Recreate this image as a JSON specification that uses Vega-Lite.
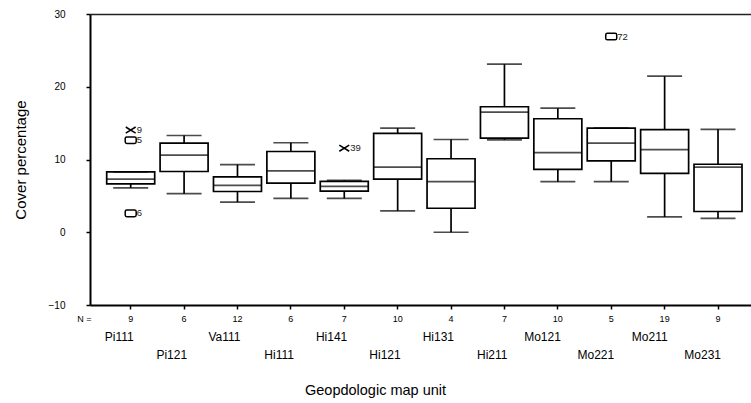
{
  "$schema": "https://vega.github.io/schema/vega-lite/v6.json",
  "width": 661,
  "height": 291,
  "autosize": {"type": "none"},
  "padding": {"left": 90, "top": 14, "right": 0, "bottom": 98},
  "background": "white",
  "config": {
    "font": "Liberation Sans",
    "view": {"stroke": null},
    "axis": {
      "grid": false,
      "domainColor": "#000",
      "tickColor": "#000",
      "labelColor": "#000",
      "titleColor": "#000",
      "titleFontWeight": "normal"
    }
  },
  "datasets": {
    "boxes": [
      {"unit": "Pi111", "n": 9, "lower": 6.1, "q1": 6.65, "median": 7.3, "q3": 8.3, "upper": 8.3},
      {"unit": "Pi121", "n": 6, "lower": 5.3, "q1": 8.35, "median": 10.6, "q3": 12.25, "upper": 13.3},
      {"unit": "Va111", "n": 12, "lower": 4.15, "q1": 5.6, "median": 6.45, "q3": 7.6, "upper": 9.3},
      {"unit": "Hi111", "n": 6, "lower": 4.65, "q1": 6.75, "median": 8.45, "q3": 11.1, "upper": 12.3},
      {"unit": "Hi141", "n": 7, "lower": 4.65, "q1": 5.65, "median": 6.3, "q3": 7.0, "upper": 7.15},
      {"unit": "Hi121", "n": 10, "lower": 2.95, "q1": 7.3, "median": 8.95, "q3": 13.6, "upper": 14.3},
      {"unit": "Hi131", "n": 4, "lower": 0.0, "q1": 3.3, "median": 6.95, "q3": 10.1, "upper": 12.75},
      {"unit": "Hi211", "n": 7, "lower": 12.7, "q1": 12.95, "median": 16.5, "q3": 17.25, "upper": 23.1},
      {"unit": "Mo121", "n": 10, "lower": 6.95, "q1": 8.65, "median": 10.95, "q3": 15.6, "upper": 17.05},
      {"unit": "Mo221", "n": 5, "lower": 6.95, "q1": 9.8, "median": 12.25, "q3": 14.3, "upper": 14.3},
      {"unit": "Mo211", "n": 19, "lower": 2.1, "q1": 8.1, "median": 11.35, "q3": 14.1, "upper": 21.45},
      {"unit": "Mo231", "n": 9, "lower": 1.9, "q1": 2.85, "median": 8.95, "q3": 9.35, "upper": 14.15}
    ],
    "outliers": [
      {"unit": "Pi111", "value": 14.05, "case": "9", "kind": "extreme"},
      {"unit": "Pi111", "value": 12.65, "case": "5", "kind": "outlier"},
      {"unit": "Pi111", "value": 2.6, "case": "6", "kind": "outlier"},
      {"unit": "Hi141", "value": 11.55, "case": "39", "kind": "extreme"},
      {"unit": "Mo221", "value": 26.9, "case": "72", "kind": "outlier"}
    ]
  },
  "layer": [
    {
      "data": {"name": "boxes"},
      "mark": {"type": "rule", "color": "#000", "strokeWidth": 1.7},
      "encoding": {
        "x": {
          "field": "unit", "type": "nominal",
          "scale": {"domain": ["Pi111", "Pi121", "Va111", "Hi111", "Hi141", "Hi121", "Hi131", "Hi211", "Mo121", "Mo221", "Mo211", "Mo231"], "paddingInner": 0, "paddingOuter": 0.19, "align": 0.69},
          "axis": {
            "orient": "bottom",
            "title": "N =",
            "titleFontSize": 9,
            "titleX": 1,
            "titleY": 13,
            "titleAlign": "right",
            "titleBaseline": "middle",
            "labelExpr": "data('boxes')[indexof(pluck(data('boxes'), 'unit'), datum.value)].n",
            "labelAngle": 0,
            "labelFontSize": 9,
            "labelBaseline": "middle",
            "labelPadding": 9,
            "tickSize": 4,
            "tickWidth": 1.5,
            "domainWidth": 2
          }
        },
        "y": {
          "field": "lower", "type": "quantitative",
          "scale": {"domain": [-10, 30], "nice": false, "zero": false},
          "axis": {
            "orient": "left",
            "title": "Cover percentage",
            "values": [-10, 0, 10, 20, 30],
            "tickSize": 4,
            "tickWidth": 1.5,
            "domainWidth": 2,
            "labelFontSize": 10,
            "labelPadding": 21,
            "titleFontSize": 15,
            "titleX": -70,
            "titleY": 145.5,
            "titleAngle": -90,
            "titleAlign": "center",
            "titleBaseline": "middle"
          }
        },
        "y2": {"field": "upper"}
      }
    },
    {
      "data": {"name": "boxes"},
      "mark": {"type": "bar", "fill": "white", "stroke": "#000", "strokeWidth": 1.7, "size": 48},
      "encoding": {
        "x": {
          "field": "unit", "type": "nominal",
          "scale": {"domain": ["Pi111", "Pi121", "Va111", "Hi111", "Hi141", "Hi121", "Hi131", "Hi211", "Mo121", "Mo221", "Mo211", "Mo231"], "paddingInner": 0, "paddingOuter": 0.19, "align": 0.69},
          "axis": {
            "orient": "bottom",
            "title": null,
            "domain": false,
            "ticks": false,
            "tickSize": 0,
            "labelAngle": 0,
            "labelFontSize": 12,
            "labelAlign": "right",
            "labelOffset": 3,
            "labelBaseline": "middle",
            "labelPadding": 31,
            "labelExpr": "round(datum.index * 11) % 2 == 0 ? datum.label : ''"
          }
        },
        "y": {"field": "q1", "type": "quantitative", "scale": {"domain": [-10, 30], "nice": false, "zero": false}, "axis": null},
        "y2": {"field": "q3"}
      }
    },
    {
      "data": {"name": "boxes"},
      "mark": {"type": "tick", "color": "#000", "size": 35, "thickness": 1.7},
      "encoding": {
        "x": {
          "field": "unit", "type": "nominal",
          "scale": {"domain": ["Pi111", "Pi121", "Va111", "Hi111", "Hi141", "Hi121", "Hi131", "Hi211", "Mo121", "Mo221", "Mo211", "Mo231"], "paddingInner": 0, "paddingOuter": 0.19, "align": 0.69},
          "axis": {
            "orient": "bottom",
            "title": "Geopdologic map unit",
            "titleFontSize": 14.5,
            "titleX": 285,
            "titleY": 89,
            "titleAlign": "center",
            "titleBaseline": "alphabetic",
            "domain": false,
            "ticks": false,
            "tickSize": 0,
            "labelAngle": 0,
            "labelFontSize": 12,
            "labelAlign": "right",
            "labelOffset": 3,
            "labelBaseline": "middle",
            "labelPadding": 49,
            "labelExpr": "round(datum.index * 11) % 2 == 1 ? datum.label : ''"
          }
        },
        "y": {"field": "lower", "type": "quantitative", "scale": {"domain": [-10, 30], "nice": false, "zero": false}, "axis": null}
      }
    },
    {
      "data": {"name": "boxes"},
      "mark": {"type": "tick", "color": "#000", "size": 35, "thickness": 1.7},
      "encoding": {
        "x": {
          "field": "unit", "type": "nominal",
          "scale": {"domain": ["Pi111", "Pi121", "Va111", "Hi111", "Hi141", "Hi121", "Hi131", "Hi211", "Mo121", "Mo221", "Mo211", "Mo231"], "paddingInner": 0, "paddingOuter": 0.19, "align": 0.69},
          "axis": {
            "orient": "top",
            "title": null,
            "labels": false,
            "ticks": false,
            "domain": true,
            "domainWidth": 1.6,
            "domainColor": "#222"
          }
        },
        "y": {"field": "upper", "type": "quantitative", "scale": {"domain": [-10, 30], "nice": false, "zero": false}, "axis": null}
      }
    },
    {
      "data": {"name": "boxes"},
      "mark": {"type": "tick", "color": "#000", "size": 48, "thickness": 1.7},
      "encoding": {
        "x": {
          "field": "unit", "type": "nominal",
          "scale": {"domain": ["Pi111", "Pi121", "Va111", "Hi111", "Hi141", "Hi121", "Hi131", "Hi211", "Mo121", "Mo221", "Mo211", "Mo231"], "paddingInner": 0, "paddingOuter": 0.19, "align": 0.69},
          "axis": null
        },
        "y": {"field": "median", "type": "quantitative", "scale": {"domain": [-10, 30], "nice": false, "zero": false}, "axis": null}
      }
    },
    {
      "data": {"name": "outliers"},
      "mark": {"type": "point", "filled": false, "stroke": "#000", "strokeWidth": 1.5, "size": 121, "opacity": 1},
      "encoding": {
        "x": {
          "field": "unit", "type": "nominal",
          "scale": {"domain": ["Pi111", "Pi121", "Va111", "Hi111", "Hi141", "Hi121", "Hi131", "Hi211", "Mo121", "Mo221", "Mo211", "Mo231"], "paddingInner": 0, "paddingOuter": 0.19, "align": 0.69},
          "axis": null
        },
        "y": {"field": "value", "type": "quantitative", "scale": {"domain": [-10, 30], "nice": false, "zero": false}, "axis": null},
        "shape": {
          "field": "kind", "type": "nominal",
          "scale": {
            "domain": ["outlier", "extreme"],
            "range": [
              "M-0.7,-0.6H0.7Q1,-0.6 1,-0.3V0.3Q1,0.6 0.7,0.6H-0.7Q-1,0.6 -1,0.3V-0.3Q-1,-0.6 -0.7,-0.6Z",
              "M-0.9,-0.55L0.9,0.55M-0.9,0.55L0.9,-0.55"
            ]
          },
          "legend": null
        }
      }
    },
    {
      "data": {"name": "outliers"},
      "mark": {"type": "text", "align": "left", "baseline": "middle", "dx": 6, "fontSize": 9.5, "color": "#222"},
      "encoding": {
        "x": {
          "field": "unit", "type": "nominal",
          "scale": {"domain": ["Pi111", "Pi121", "Va111", "Hi111", "Hi141", "Hi121", "Hi131", "Hi211", "Mo121", "Mo221", "Mo211", "Mo231"], "paddingInner": 0, "paddingOuter": 0.19, "align": 0.69},
          "axis": null
        },
        "y": {"field": "value", "type": "quantitative", "scale": {"domain": [-10, 30], "nice": false, "zero": false}, "axis": null},
        "text": {"field": "case"}
      }
    }
  ],
  "resolve": {"axis": {"x": "independent", "y": "independent"}}
}
